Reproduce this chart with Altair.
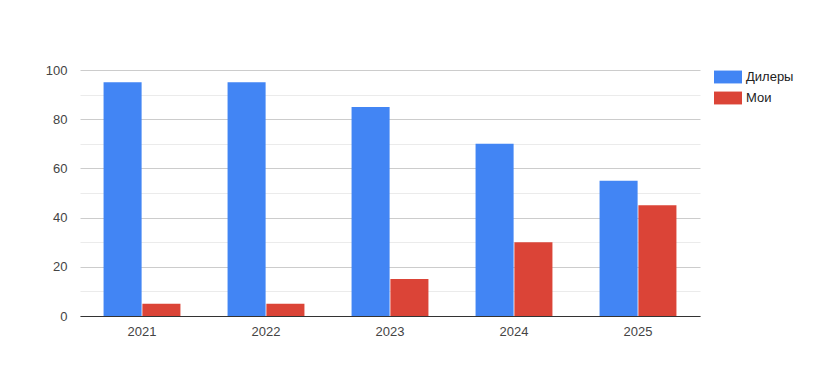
import altair as alt
import pandas as pd

years = ["2021", "2022", "2023", "2024", "2025"]
dealers = [95, 95, 85, 70, 55]
mine = [5, 5, 15, 30, 45]
series = ["Дилеры", "Мои"]
colors = ["#4285f4", "#db4437"]

rows = []
for i, y in enumerate(years):
    rows.append({"year": y, "series": series[0], "value": dealers[i]})
    rows.append({"year": y, "series": series[1], "value": mine[i]})
df = pd.DataFrame(rows)

FONT = "Liberation Sans"

chart = alt.Chart(df).mark_bar().encode(
    x=alt.X("year:N", sort=years, title=None,
            scale=alt.Scale(paddingInner=0.38, paddingOuter=0.19),
            axis=alt.Axis(labelAngle=0, ticks=False, domainColor="#333333",
                          domainWidth=1, labelPadding=9, grid=False)),
    xOffset=alt.XOffset("series:N", sort=series,
                        scale=alt.Scale(paddingInner=0.02, paddingOuter=0)),
    y=alt.Y("value:Q", title=None,
            scale=alt.Scale(domain=[0, 100], nice=False),
            axis=alt.Axis(values=list(range(0, 101, 10)), ticks=False, domain=False,
                          labelExpr="datum.value % 20 == 0 ? datum.label : ''",
                          gridColor={"condition": {"test": "datum.value % 20 == 0", "value": "#cccccc"},
                                     "value": "#ebebeb"},
                          labelPadding=13)),
    color=alt.Color("series:N", sort=series, title=None,
                    scale=alt.Scale(domain=series, range=colors),
                    legend=alt.Legend(orient="none", legendX=634, legendY=-7,
                                      symbolType="M-1,-0.46H1V0.46H-1Z", symbolSize=784,
                                      symbolStrokeWidth=0, symbolOpacity=1,
                                      labelFontSize=13, labelColor="#222222",
                                      labelFont=FONT, labelOffset=4, rowPadding=-1)),
).properties(
    width=620, height=246,
    autosize=alt.AutoSizeParams(type="none"),
    padding={"left": 72, "top": 62, "right": 123, "bottom": 63},
).configure_axis(
    labelFont=FONT, labelFontSize=13, labelColor="#444444",
).configure_view(stroke=None).configure_axisX(grid=False)

chart.save("out.html", embed_options={"renderer": "svg", "actions": False})
